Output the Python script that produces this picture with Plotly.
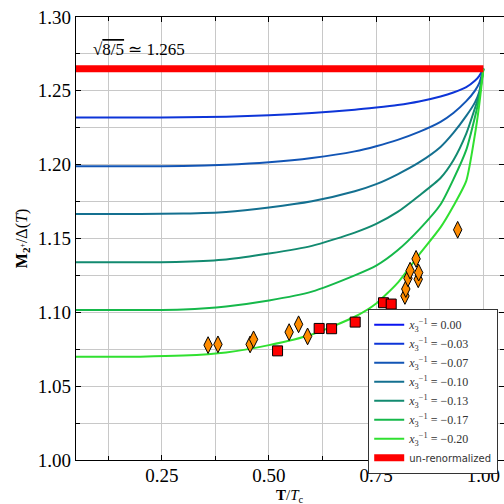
import plotly.graph_objects as go

# ---- data ----
T_grid = [0.05, 0.2, 0.3, 0.4, 0.5, 0.6, 0.7, 0.75, 0.8, 0.85, 0.9, 0.93, 0.96, 0.98, 0.99, 1.0]

curve_labels = ["0.00", "\u22120.03", "\u22120.07", "\u22120.10", "\u22120.13", "\u22120.17", "\u22120.20"]
m_000 = [1.265] * 16
m_003 = [1.2319, 1.2319, 1.2321, 1.2325, 1.2334, 1.2350, 1.2372, 1.2387, 1.2404, 1.2428, 1.2462, 1.2489, 1.2525, 1.2568, 1.2600, 1.265]
m_007 = [1.1989, 1.1989, 1.1991, 1.1999, 1.2016, 1.2045, 1.2090, 1.2125, 1.2168, 1.2222, 1.2290, 1.2350, 1.2430, 1.2500, 1.2550, 1.265]
m_010 = [1.1666, 1.1666, 1.1669, 1.1680, 1.1710, 1.1752, 1.1820, 1.1868, 1.1935, 1.2015, 1.2120, 1.2215, 1.2330, 1.2420, 1.2490, 1.265]
m_013 = [1.1339, 1.1339, 1.1343, 1.1358, 1.1398, 1.1450, 1.1540, 1.1599, 1.1680, 1.1790, 1.1910, 1.2030, 1.2210, 1.2380, 1.2470, 1.265]
m_017 = [1.1016, 1.1016, 1.1020, 1.1040, 1.1080, 1.1140, 1.1250, 1.1316, 1.1420, 1.1560, 1.1730, 1.1900, 1.2100, 1.2320, 1.2450, 1.265]
m_020 = [1.0700, 1.0700, 1.0707, 1.0728, 1.0778, 1.0850, 1.0970, 1.1060, 1.1200, 1.1390, 1.1575, 1.1720, 1.1890, 1.2200, 1.2400, 1.265]
curves = [m_000, m_003, m_007, m_010, m_013, m_017, m_020]
curve_colors = ["#0a14f0", "#0d35d8", "#1255b5", "#147090", "#128a70", "#15b84a", "#30e030"]

unren_T = [0.05, 1.0]
unren_M = [1.265, 1.265]

diam_T = [0.358, 0.381, 0.456, 0.464, 0.547, 0.569, 0.590,
          0.817, 0.819, 0.824, 0.829, 0.843, 0.848, 0.849, 0.940]
diam_M = [1.0778, 1.0783, 1.0783, 1.0817, 1.0866, 1.0919, 1.0837,
          1.1111, 1.1158, 1.1231, 1.1282, 1.1362, 1.1224, 1.1269, 1.1559]

sq_T = [0.520, 0.617, 0.646, 0.701, 0.767, 0.785]
sq_M = [1.0739, 1.0891, 1.0889, 1.0934, 1.1065, 1.1056]

SERIF = "Liberation Serif"

fig = go.Figure()
for lab, ys, col in zip(curve_labels, curves, curve_colors):
    fig.add_trace(go.Scatter(
        x=T_grid, y=ys, mode="lines", line=dict(color=col, width=2, shape="spline", smoothing=0.6),
        name="<i>x</i><sub>3</sub><sup>\u22121</sup> = " + lab))

fig.add_trace(go.Scatter(x=unren_T, y=unren_M, mode="lines",
                         line=dict(color="#ff0000", width=7),
                         name="<span style='font-family:DejaVu Sans;font-size:10px'>un-renormalized</span>"))

fig.add_trace(go.Scatter(x=diam_T, y=diam_M, mode="markers", showlegend=False,
                         marker=dict(symbol="diamond-tall", size=12, color="#ff8c00",
                                     line=dict(color="black", width=1))))
fig.add_trace(go.Scatter(x=sq_T, y=sq_M, mode="markers", showlegend=False,
                         marker=dict(symbol="square", size=10, color="#ff0000",
                                     line=dict(color="black", width=1))))

fig.add_annotation(x=0.085, y=1.2705, xref="x", yref="y", xanchor="left", yanchor="bottom",
                   text="\u221a<span style='text-decoration:overline'>8/5</span> \u2243 1.265",
                   showarrow=False, font=dict(family=SERIF, size=17, color="black"))

fig.add_annotation(x=0.5, y=0, xref="paper", yref="paper", xanchor="center", yanchor="middle",
                   yshift=-36, showarrow=False,
                   text="<b>T</b>/<i>T</i><sub>c</sub>", font=dict(family=SERIF, size=15, color="black"))

axis_common = dict(
    showline=True, linecolor="black", linewidth=1.2, mirror="ticks",
    ticks="inside", ticklen=5, tickcolor="black",
    showgrid=True, gridcolor="#c8c8c8", gridwidth=1.3, zeroline=False,
    tickfont=dict(family=SERIF, size=19, color="black"),
)

fig.update_xaxes(range=[0.05, 1.048], tick0=0, dtick=0.25, tickformat=".2f",
                 ticklabelstandoff=-2,
                 minor=dict(dtick=0.125, tick0=0, showgrid=True, gridcolor="#c8c8c8", gridwidth=1.3,
                            ticks="inside", ticklen=4, tickcolor="black"),
                 **axis_common)
fig.update_yaxes(range=[1.0, 1.3], tick0=1.0, dtick=0.05, tickformat=".2f",
                 minor=dict(dtick=0.025, tick0=1.0, showgrid=True, gridcolor="#c8c8c8", gridwidth=1.3,
                            ticks="inside", ticklen=4, tickcolor="black"),
                 title=dict(text="<b>M</b><sub><b>2</b><sup>+</sup></sub>/\u0394(<i>T</i>)",
                            font=dict(family=SERIF, size=16, color="black"), standoff=6),
                 **axis_common)

fig.update_layout(
    width=504, height=504,
    margin=dict(l=76, r=0, t=17, b=44),
    paper_bgcolor="white", plot_bgcolor="white",
    legend=dict(x=0.986, y=0.341, xanchor="right", yanchor="top",
                bgcolor="white", bordercolor="#333333", borderwidth=1.2,
                font=dict(family=SERIF, size=12, color="#333333"),
                itemwidth=30, tracegroupgap=0),
)

fig.write_html("out.html")
